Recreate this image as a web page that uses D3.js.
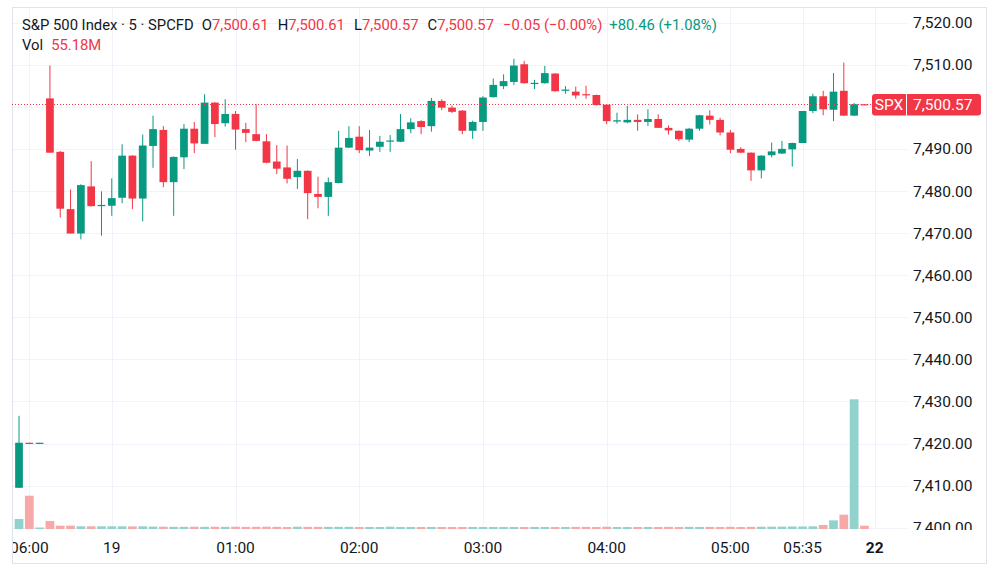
<!DOCTYPE html>
<html>
<head>
<meta charset="utf-8">
<script src="https://cdn.jsdelivr.net/npm/d3@7"></script>
<style>
  body { margin: 0; background: #fff; }
  svg { display: block; font-family: Roboto, "Noto Sans", sans-serif; }
</style>
</head>
<body>
<svg id="chart" width="1000" height="588"></svg>
<script>
// ============= Data (5 min bars, SPX CFD) =============
const opens = [7409.5, 7420.2, 7420.1, 7502.0, 7489.3, 7475.7, 7469.9, 7481.1, 7476.4, 7476.5,
  7478.4, 7488.4, 7478.2, 7490.7, 7494.5, 7482.1, 7488.0, 7494.8, 7491.2, 7501.0,
  7496.1, 7498.3, 7494.7, 7493.5, 7491.8, 7487.0, 7485.6, 7483.3, 7484.8, 7479.3,
  7478.6, 7481.9, 7490.3, 7492.9, 7489.6, 7490.5, 7491.9, 7491.7, 7494.7, 7496.6,
  7495.4, 7501.4, 7499.8, 7499.1, 7494.3, 7496.4, 7502.3, 7504.9, 7505.9, 7510.1,
  7505.4, 7505.6, 7507.9, 7503.8, 7503.6, 7503.0, 7502.8, 7500.5, 7496.5, 7496.3,
  7496.9, 7496.4, 7497.1, 7495.0, 7494.3, 7492.2, 7494.8, 7497.9, 7496.9, 7493.9,
  7490.0, 7489.1, 7484.9, 7488.5, 7488.9, 7489.9, 7491.4, 7499.0, 7502.5, 7499.3,
  7503.8, 7497.9, 7500.61];
const highs = [7426.6, 7420.2, 7420.2, 7509.8, 7489.5, 7480.4, 7481.6, 7487.1, 7479.9, 7483.0,
  7491.1, 7488.5, 7493.4, 7497.9, 7495.4, 7488.2, 7495.9, 7496.4, 7503.0, 7501.1,
  7501.8, 7499.0, 7496.2, 7500.6, 7493.5, 7490.9, 7490.8, 7487.6, 7484.9, 7483.4,
  7483.2, 7494.3, 7495.4, 7495.4, 7494.5, 7493.1, 7493.3, 7498.3, 7497.3, 7496.8,
  7502.1, 7501.8, 7500.3, 7499.2, 7496.7, 7502.5, 7506.7, 7507.7, 7511.4, 7510.9,
  7506.4, 7509.7, 7508.0, 7504.9, 7504.8, 7505.0, 7502.9, 7500.6, 7498.6, 7500.2,
  7498.2, 7499.4, 7498.2, 7495.6, 7494.4, 7495.0, 7498.1, 7499.2, 7497.4, 7494.5,
  7490.4, 7489.2, 7488.5, 7491.5, 7491.9, 7491.5, 7499.0, 7503.1, 7503.8, 7508.0,
  7510.5, 7500.9, 7500.61];
const lows = [7409.5, 7420.1, 7420.1, 7489.1, 7473.7, 7469.9, 7468.5, 7476.3, 7469.4, 7474.1,
  7477.1, 7475.7, 7472.8, 7485.5, 7480.9, 7474.1, 7485.2, 7489.0, 7491.2, 7492.8,
  7495.3, 7489.8, 7491.6, 7491.8, 7486.6, 7484.0, 7481.8, 7480.5, 7473.3, 7475.9,
  7474.1, 7481.8, 7490.2, 7489.0, 7488.3, 7489.3, 7489.3, 7491.6, 7493.7, 7493.5,
  7494.1, 7499.2, 7498.5, 7493.5, 7492.4, 7494.3, 7502.2, 7504.2, 7505.2, 7505.5,
  7504.2, 7505.5, 7503.6, 7503.1, 7501.9, 7501.9, 7500.3, 7495.9, 7496.0, 7496.1,
  7494.3, 7495.4, 7495.0, 7493.4, 7491.9, 7491.6, 7494.3, 7495.8, 7493.2, 7489.0,
  7489.0, 7482.4, 7483.0, 7488.0, 7488.8, 7485.8, 7491.4, 7498.5, 7498.0, 7496.6,
  7497.8, 7497.8, 7500.57];
const closes = [7420.2, 7420.1, 7420.2, 7489.1, 7475.8, 7469.9, 7481.4, 7476.4, 7476.7, 7478.3,
  7488.4, 7478.2, 7490.8, 7494.7, 7482.1, 7488.1, 7494.8, 7491.3, 7501.0, 7495.9,
  7498.3, 7494.6, 7493.8, 7491.9, 7486.7, 7485.3, 7482.9, 7484.8, 7479.5, 7478.6,
  7482.1, 7490.3, 7492.6, 7489.7, 7490.3, 7491.7, 7492.0, 7494.7, 7496.3, 7495.2,
  7501.4, 7499.8, 7498.8, 7494.3, 7496.4, 7502.2, 7505.2, 7506.1, 7509.8, 7505.6,
  7505.7, 7508.0, 7503.7, 7504.1, 7502.7, 7502.8, 7500.4, 7496.6, 7496.8, 7496.9,
  7496.4, 7497.1, 7495.0, 7494.4, 7492.3, 7494.8, 7498.0, 7496.9, 7493.9, 7489.8,
  7489.1, 7484.9, 7488.4, 7489.4, 7490.0, 7491.4, 7499.0, 7502.5, 7499.4, 7503.6,
  7497.9, 7500.61, 7500.57];
// volume in millions
const volumes = [167, 557, 25, 134, 56, 56, 45, 45, 45, 45,
  45, 43, 45, 40, 38, 36, 36, 38, 36, 38,
  36, 38, 36, 36, 38, 36, 33, 38, 36, 36,
  36, 36, 36, 33, 33, 33, 38, 33, 33, 33,
  33, 33, 33, 33, 33, 33, 33, 33, 33, 33,
  33, 33, 33, 33, 35, 36, 33, 38, 33, 33,
  33, 33, 33, 36, 33, 36, 33, 35, 33, 36,
  33, 36, 38, 38, 40, 42, 42, 45, 67, 145,
  240, 2170, 55.18];

const timeTickIndex = [1, 9, 21, 33, 45, 57, 69, 76, 83];
const timeTickLabels = ["06:00", "19", "01:00", "02:00", "03:00", "04:00", "05:00", "05:35", "22"];
const priceTicks = d3.range(7400, 7521, 10);

const symbolTitle = "S&P 500 Index · 5 · SPCFD";
const ohlcNames = ["O", "H", "L", "C"];
const ohlcValues = ["7,500.61", "7,500.61", "7,500.57", "7,500.57"];
const barChange = "−0.05 (−0.00%)";
const dayChange = "+80.46 (+1.08%)";
const volLabel = "55.18M";
const lastPrice = 7500.57;
const tickerLabel = "SPX";

// ============= Layout =============
const width = 1000;
const height = 588;
const plot = { left: 12, top: 7, right: 907, bottom: 529 };
const frame = { left: 12, top: 7, right: 987, bottom: 564 };

const UP = "#089981";
const DOWN = "#f23645";
const UP_VOL = "#92d2cc";
const DOWN_VOL = "#f7a9a7";
const TEXT = "#131722";
const GRID = "#f0f3fa";
const AXIS_FONT = 15.5;

const nSlots = opens.length + 1;   // one empty slot on the right
const xScale = d3.scaleBand()
  .domain(d3.range(nSlots))
  .range([13.85, 879.9])
  .paddingInner(0.25)
  .paddingOuter(0.125);
const step = xScale.step();
const cx = i => xScale(i) + xScale.bandwidth() / 2;

const yScale = d3.scaleLinear()
  .domain([7400, 7520])
  .range([527.8, 22.6]);

const volScale = d3.scaleLinear()
  .domain([0, d3.max(volumes)])
  .range([plot.bottom, 399.3]);

const bars = opens.map((o, i) => ({
  i, o, h: highs[i], l: lows[i], c: closes[i], v: volumes[i], up: closes[i] >= o
}));

const svg = d3.select("#chart");
const defs = svg.append("defs");
defs.append("clipPath").attr("id", "plot-clip")
  .append("rect")
  .attr("x", plot.left).attr("y", plot.top)
  .attr("width", plot.right - plot.left).attr("height", plot.bottom - plot.top);
defs.append("clipPath").attr("id", "axis-clip")
  .append("rect")
  .attr("x", plot.right).attr("y", plot.top)
  .attr("width", frame.right - plot.right).attr("height", plot.bottom + 1 - plot.top);
defs.append("clipPath").attr("id", "time-clip")
  .append("rect")
  .attr("x", frame.left + 1).attr("y", plot.bottom)
  .attr("width", plot.right - frame.left).attr("height", frame.bottom - plot.bottom);

// ============= Grid =============
const grid = svg.append("g").attr("clip-path", "url(#plot-clip)");
grid.selectAll("line.h")
  .data(priceTicks)
  .join("line")
  .attr("class", "h")
  .attr("x1", plot.left).attr("x2", plot.right)
  .attr("y1", d => Math.round(yScale(d)) + 0.5)
  .attr("y2", d => Math.round(yScale(d)) + 0.5)
  .attr("stroke", GRID);
grid.selectAll("line.v")
  .data(timeTickIndex)
  .join("line")
  .attr("class", "v")
  .attr("y1", plot.top).attr("y2", plot.bottom)
  .attr("x1", d => Math.round(cx(d)) + 0.5)
  .attr("x2", d => Math.round(cx(d)) + 0.5)
  .attr("stroke", GRID);

// frame
svg.append("rect")
  .attr("x", frame.left + 0.5).attr("y", frame.top + 0.5)
  .attr("width", frame.right - frame.left - 1).attr("height", frame.bottom - frame.top - 1)
  .attr("fill", "none")
  .attr("stroke", "#e0e3eb");

// ============= Volume =============
const plotG = svg.append("g").attr("clip-path", "url(#plot-clip)");
const volW = step * 0.85;
plotG.append("g").selectAll("rect")
  .data(bars)
  .join("rect")
  .attr("x", d => cx(d.i) - volW / 2)
  .attr("width", volW)
  .attr("y", d => volScale(d.v))
  .attr("height", d => Math.max(1, volScale(0) - volScale(d.v)))
  .attr("fill", d => d.up ? UP_VOL : DOWN_VOL);

// ============= Candles =============
const candles = plotG.append("g").selectAll("g")
  .data(bars)
  .join("g");
candles.append("line")
  .attr("x1", d => cx(d.i)).attr("x2", d => cx(d.i))
  .attr("y1", d => yScale(d.h)).attr("y2", d => yScale(d.l))
  .attr("stroke", d => d.up ? UP : DOWN)
  .attr("stroke-width", 1);
candles.append("rect")
  .attr("x", d => xScale(d.i))
  .attr("width", xScale.bandwidth())
  .attr("y", d => yScale(Math.max(d.o, d.c)))
  .attr("height", d => Math.max(1.2, Math.abs(yScale(d.o) - yScale(d.c))))
  .attr("fill", d => d.up ? UP : DOWN);

// last price line
plotG.append("line")
  .attr("x1", plot.left).attr("x2", plot.right)
  .attr("y1", Math.round(yScale(lastPrice)) + 0.5)
  .attr("y2", Math.round(yScale(lastPrice)) + 0.5)
  .attr("stroke", DOWN)
  .attr("stroke-dasharray", "1,2");

// ============= Price axis =============
const ly = yScale(lastPrice);
// labels hidden behind the last-price tag are not drawn
svg.append("g").attr("clip-path", "url(#axis-clip)")
  .selectAll("text")
  .data(priceTicks.filter(t => Math.abs(yScale(t) - ly) > 16))
  .join("text")
  .attr("x", 913)
  .attr("y", d => yScale(d) + 5.5)
  .attr("font-size", AXIS_FONT)
  .attr("fill", TEXT)
  .text(d => d3.format(",.2f")(d));

// last price label
const tag = svg.append("g");
tag.append("rect")
  .attr("x", 872).attr("y", ly - 10.5)
  .attr("width", 109).attr("height", 21.5)
  .attr("rx", 3)
  .attr("fill", DOWN);
tag.append("line")
  .attr("x1", 906.5).attr("x2", 906.5)
  .attr("y1", ly - 10.5).attr("y2", ly + 11)
  .attr("stroke", "#fff");
tag.append("text")
  .attr("x", 889).attr("y", ly + 5.5)
  .attr("text-anchor", "middle")
  .attr("font-size", AXIS_FONT)
  .attr("fill", "#fff")
  .text(tickerLabel);
tag.append("text")
  .attr("x", 913).attr("y", ly + 5.5)
  .attr("font-size", AXIS_FONT)
  .attr("fill", "#fff")
  .text(d3.format(",.2f")(lastPrice));

// ============= Time axis =============
svg.append("g").attr("clip-path", "url(#time-clip)")
  .selectAll("text")
  .data(timeTickIndex)
  .join("text")
  .attr("x", d => cx(d))
  .attr("y", 553)
  .attr("text-anchor", "middle")
  .attr("font-size", AXIS_FONT)
  .attr("font-weight", (d, k) => timeTickLabels[k] === "22" ? 700 : 400)
  .attr("fill", TEXT)
  .text((d, k) => timeTickLabels[k]);

// ============= Legend / header =============
function flow(y, parts, x0) {
  let x = x0;
  parts.forEach(p => {
    const t = svg.append("text")
      .attr("x", x).attr("y", y)
      .attr("font-size", 14.8)
      .attr("fill", p.color)
      .text(p.text);
    x += t.node().getComputedTextLength() + (p.gap || 0);
  });
}
const line1 = [{ text: symbolTitle, color: TEXT, gap: 8 }];
ohlcNames.forEach((n, k) => {
  line1.push({ text: n, color: TEXT, gap: 0 });
  line1.push({ text: ohlcValues[k], color: DOWN, gap: 9 });
});
line1.push({ text: barChange, color: DOWN, gap: 7 });
line1.push({ text: dayChange, color: UP, gap: 0 });
flow(30, line1, 22);
flow(50, [{ text: "Vol", color: TEXT, gap: 8 }, { text: volLabel, color: DOWN, gap: 0 }], 22);
</script>
</body>
</html>
